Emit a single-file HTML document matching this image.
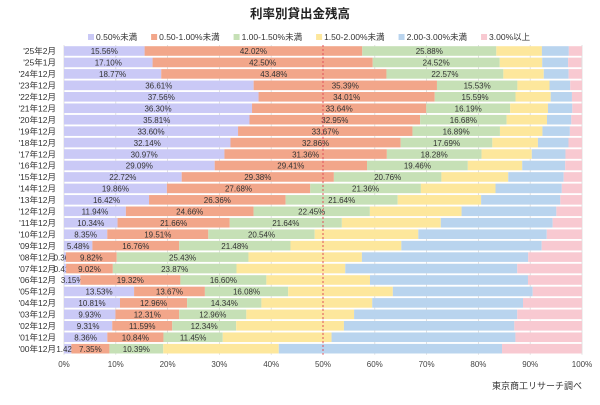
<!DOCTYPE html>
<html><head><meta charset="utf-8">
<style>
body{margin:0;background:#fff;font-family:"Liberation Sans","Noto Sans CJK JP",sans-serif;}
svg text{font-family:"Liberation Sans","Noto Sans CJK JP",sans-serif;}
</style></head>
<body>
<svg id="chart" width="600" height="400" xmlns="http://www.w3.org/2000/svg">
<rect width="600" height="400" fill="#fff"/>
<text x="300" y="18" text-anchor="middle" font-size="12.5" font-weight="bold" fill="#222">利率別貸出金残高</text>
<g id="legend"></g>
<g id="grid"></g>
<g id="bars"></g>
<g id="labels"></g>
<g id="xaxis"></g>
<text x="582" y="389" text-anchor="end" font-size="9" fill="#333">東京商工リサーチ調べ</text>
</svg>
<script>
const categories=["'25年2月","'25年1月","'24年12月","'23年12月","'22年12月","'21年12月","'20年12月","'19年12月","'18年12月","'17年12月","'16年12月","'15年12月","'14年12月","'13年12月","'12年12月","'11年12月","'10年12月","'09年12月","'08年12月","'07年12月","'06年12月","'05年12月","'04年12月","'03年12月","'02年12月","'01年12月","'00年12月"];
const seriesNames=["0.50%未満","0.50-1.00%未満","1.00-1.50%未満","1.50-2.00%未満","2.00-3.00%未満","3.00%以上"];
const s1=[15.56,17.10,18.77,36.61,37.56,36.30,35.81,33.60,32.14,30.97,29.09,22.72,19.86,16.42,11.94,10.34,8.35,5.48,0.36,0.41,3.15,13.53,10.81,9.93,9.31,8.36,1.42];
const s2=[42.02,42.50,43.48,35.39,34.01,33.64,32.95,33.67,32.86,31.36,29.41,29.38,27.68,26.36,24.66,21.66,19.51,16.76,9.82,9.02,19.32,13.67,12.96,12.31,11.59,10.84,7.35];
const s3=[25.88,24.52,22.57,15.53,15.59,16.19,16.68,16.89,17.69,18.28,19.46,20.76,21.36,21.64,22.45,21.64,20.54,21.48,25.43,23.87,16.60,16.08,14.34,12.96,12.34,11.45,10.39];
const s4=[8.8,8.2,7.8,6.2,6.8,7.3,7.8,8.2,8.8,9.7,10.5,12.9,14.4,16.1,17.7,19.1,20.0,21.4,21.9,21.0,20.0,20.2,21.4,20.8,20.8,21.0,22.3];
const s5=[5.2,5.0,4.8,4.0,4.1,4.7,4.7,5.3,5.9,6.5,8.3,10.7,12.8,15.3,18.3,21.6,24.8,27.1,32.1,33.2,30.5,27.0,29.1,31.5,32.9,35.5,43.1];
const s6=[2.54,2.58,2.58,2.27,1.94,1.87,2.06,2.34,2.61,3.19,3.24,3.54,3.9,4.18,4.95,5.66,6.8,7.76,10.39,12.5,10.43,9.52,11.39,12.5,13.06,12.85,15.39];
const xTicks=[0,10,20,30,40,50,60,70,80,90,100];
const series=[s1,s2,s3,s4,s5,s6];
const colors=["#cac9f6","#f2a68a","#c6e0b6","#fde79c","#b9d4ee","#f8c9d1"];
const labeled=[true,true,true,false,false,false];
const NS="http://www.w3.org/2000/svg";
const X0=64,X1=582,Y0=51,PITCH=11.45,BH=9.6;
const x=v=>X0+(X1-X0)*v/100;
const y=i=>Y0+i*PITCH;
function mk(tag,attrs,parent){const e=document.createElementNS(NS,tag);for(const k in attrs)e.setAttribute(k,attrs[k]);parent.appendChild(e);return e;}
const grid=document.getElementById('grid'),bars=document.getElementById('bars'),labels=document.getElementById('labels'),xaxis=document.getElementById('xaxis'),legend=document.getElementById('legend');
xTicks.forEach(t=>{
 const l=mk('line',{x1:x(t),x2:x(t),y1:y(0)-6,y2:y(categories.length-1)+6,stroke:'#d9d9d9','stroke-width':0.8},grid);
 
 
 const tx=mk('text',{x:x(t),y:367,'text-anchor':'middle','font-size':8,fill:'#444'},xaxis);
 tx.textContent=t+'%';
 
 
});
categories.forEach((c,i)=>{
 const lt=mk('text',{x:56,y:y(i)+3.2,'text-anchor':'end','font-size':8.5,fill:'#333'},labels);
 lt.textContent=c;
 
 
 let cum=0;
 series.forEach((s,k)=>{
  const v=s[i];
  const r=mk('rect',{x:x(cum),y:y(i)-BH/2,width:x(cum+v)-x(cum),height:BH,fill:colors[k]},bars);
  
  
  if(labeled[k]){
   const t=mk('text',{x:(x(cum)+x(cum+v))/2,y:y(i)+3.2,'text-anchor':'middle','font-size':8,fill:'#333'},bars);
   t.textContent=v.toFixed(2)+'%';
   
   
  }
  cum+=v;
 });
});
const ref=mk('line',{x1:x(50),x2:x(50),y1:y(0)-6,y2:y(categories.length-1)+6,stroke:'#e0505a','stroke-width':1,'stroke-dasharray':'2,2'},bars);


let lx=88;
seriesNames.forEach((n,k)=>{
 const sq=mk('rect',{x:lx,y:34,width:6,height:6,fill:colors[k]},legend);
 
 
 const t=mk('text',{x:lx+8,y:40,'font-size':8.5,fill:'#333'},legend);
 t.textContent=n;
 
 
 lx+=14+t.getComputedTextLength()+8;
});
</script>
</body></html>
